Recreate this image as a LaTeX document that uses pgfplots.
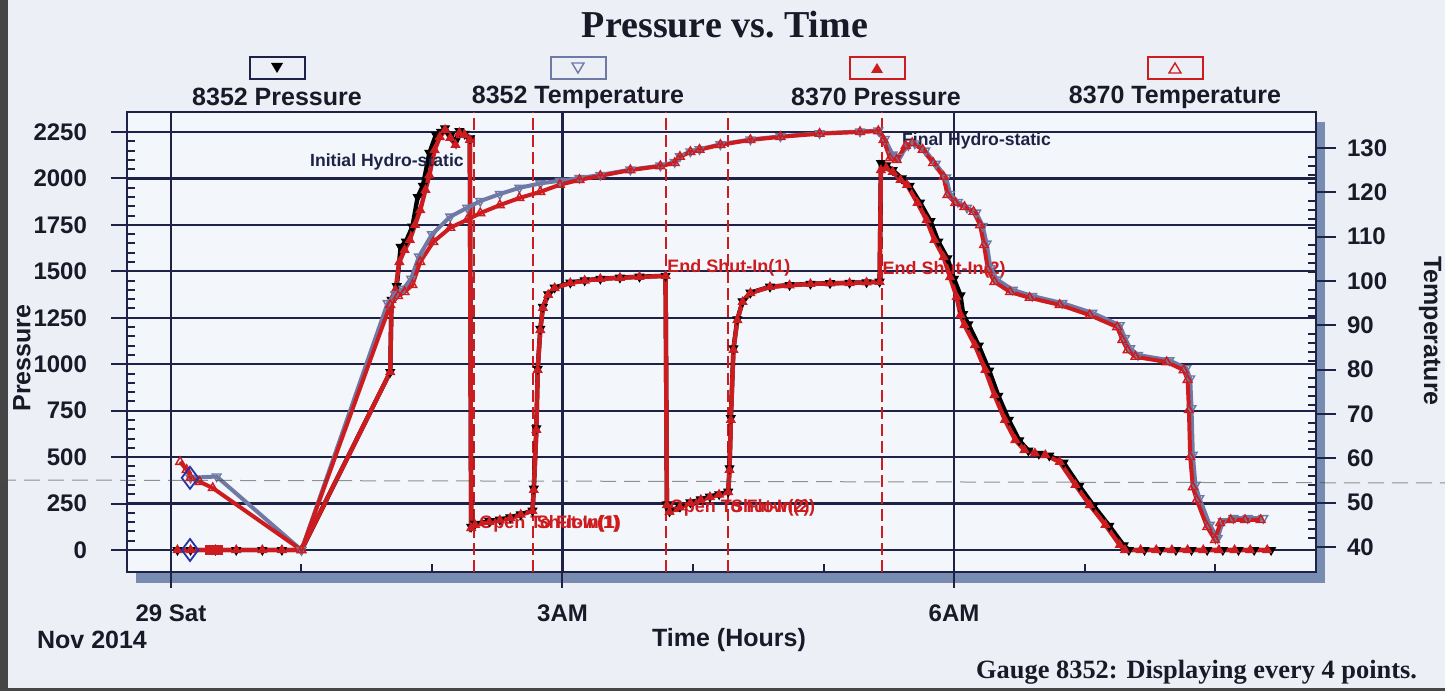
\documentclass[border=0pt]{standalone}
\usepackage{pgfplots}
\pgfplotsset{compat=1.18}
\usepackage{pgfplotstable}
\usepackage{fontspec}
\setmainfont{Liberation Sans}
\newfontfamily\timesf{Liberation Serif}
\definecolor{navy}{RGB}{30,34,70}
\definecolor{gred}{RGB}{205,28,32}
\definecolor{gtemp}{RGB}{110,122,165}
\definecolor{bgc}{RGB}{236,240,246}
\definecolor{plotbg}{RGB}{243,246,250}
\definecolor{shadowc}{RGB}{120,140,178}
\definecolor{edgec}{RGB}{70,70,70}
\definecolor{diamc}{RGB}{40,50,170}
\definecolor{txt}{RGB}{25,25,40}

% 8370 Pressure (psi) vs time (hours after midnight, 29 Nov 2014)
\pgfplotstableread{
t P
0.05 0
0.15 0
0.34 0
0.50 0
0.70 0
0.85 0
1.00 0
1.68 958
1.69 1346
1.72 1400
1.75 1550
1.79 1615
1.83 1669
1.87 1750
1.91 1830
1.95 1938
1.98 2018
2.02 2153
2.06 2223
2.10 2261
2.14 2218
2.18 2180
2.21 2245
2.25 2234
2.29 2207
2.30 118
2.33 135
2.44 151
2.52 160
2.60 172
2.68 190
2.77 210
2.78 323
2.80 646
2.81 969
2.83 1184
2.85 1303
2.89 1373
2.94 1410
3.06 1437
3.17 1450
3.29 1459
3.44 1465
3.59 1470
3.79 1475
3.80 242
3.82 205
3.90 230
3.98 253
4.06 270
4.13 285
4.20 298
4.27 312
4.28 431
4.29 700
4.31 1077
4.34 1238
4.38 1335
4.44 1383
4.59 1416
4.74 1425
4.90 1432
5.05 1435
5.20 1437
5.33 1440
5.43 1443
5.44 2045
5.48 2056
5.53 2035
5.59 1992
5.64 1965
5.72 1868
5.79 1776
5.85 1669
5.92 1577
5.97 1469
6.02 1362
6.05 1265
6.08 1211
6.16 1103
6.24 969
6.31 834
6.39 700
6.47 592
6.54 538
6.62 520
6.70 511
6.81 474
6.93 350
7.04 242
7.16 135
7.27 27
7.31 0
7.43 0
7.55 0
7.67 0
7.79 0
7.91 0
8.03 0
8.15 0
8.27 0
8.40 0
}\redP

% 8352 Pressure
\pgfplotstableread{
t P
0.05 0
0.15 0
0.34 0
0.50 0
0.70 0
0.85 0
1.00 0
1.68 958
1.69 1346
1.73 1420
1.76 1631
1.80 1660
1.85 1740
1.89 1900
1.93 1960
1.98 2137
2.03 2234
2.07 2250
2.10 2270
2.14 2230
2.18 2200
2.21 2255
2.25 2240
2.29 2215
2.30 125
2.33 140
2.44 155
2.52 163
2.60 175
2.68 192
2.77 212
2.78 330
2.80 655
2.81 975
2.83 1190
2.85 1308
2.89 1376
2.94 1412
3.06 1439
3.17 1451
3.29 1460
3.44 1466
3.59 1471
3.79 1476
3.80 245
3.82 208
3.90 233
3.98 256
4.06 272
4.13 287
4.20 300
4.27 314
4.28 440
4.29 710
4.31 1085
4.34 1242
4.38 1338
4.44 1385
4.59 1417
4.74 1426
4.90 1433
5.05 1436
5.20 1438
5.33 1441
5.43 1444
5.44 2083
5.48 2070
5.53 2045
5.60 2000
5.66 1960
5.74 1870
5.82 1770
5.88 1660
5.95 1570
6.00 1460
6.05 1370
6.07 1270
6.11 1215
6.19 1100
6.27 965
6.34 830
6.42 700
6.50 590
6.57 535
6.65 518
6.73 508
6.84 470
6.96 345
7.07 238
7.19 130
7.30 25
7.34 0
7.46 0
7.58 0
7.70 0
7.82 0
7.94 0
8.06 0
8.18 0
8.30 0
8.43 0
}\blackP

% 8370 Temperature
\pgfplotstableread{
t T
0.07 59.2
0.12 57.4
0.15 55.6
0.22 54.7
0.32 53.3
1.00 39.3
1.68 94.6
1.74 96.6
1.79 97.5
1.85 99.1
1.91 104.3
2.01 108.8
2.14 112.0
2.27 113.8
2.37 115.3
2.52 117.1
2.67 118.7
2.83 120.1
2.98 121.7
3.13 122.8
3.29 123.7
3.52 125.0
3.75 125.9
3.86 126.6
3.90 128.0
3.98 129.1
4.05 129.6
4.21 130.7
4.44 131.8
4.67 132.5
4.97 133.2
5.28 133.6
5.42 133.8
5.46 131.8
5.51 127.7
5.56 127.3
5.63 130.5
5.68 131.1
5.76 129.6
5.84 126.6
5.92 123.5
5.95 119.4
6.01 117.6
6.08 116.7
6.15 115.6
6.20 112.6
6.23 108.1
6.26 102.5
6.31 99.8
6.43 97.5
6.58 96.2
6.81 94.6
7.04 92.3
7.25 89.6
7.29 86.7
7.33 84.4
7.39 82.9
7.63 81.7
7.76 79.9
7.79 77.7
7.80 70.9
7.81 60.3
7.83 53.5
7.86 50.6
7.94 44.5
8.00 41.6
8.04 45.4
8.12 46.1
8.23 46.1
8.35 46.1
}\redT

% 8352 Temperature
\pgfplotstableread{
t T
0.15 55.6
0.35 55.9
1.00 39.3
1.66 95.0
1.72 97.0
1.78 98.2
1.84 100.5
1.90 105.5
2.00 110.5
2.14 114.5
2.27 116.5
2.37 118.0
2.52 119.6
2.67 121.0
2.83 122.0
2.98 122.6
3.13 123.2
3.29 123.9
3.52 125.1
3.75 126.0
3.86 126.8
3.90 128.1
3.98 129.2
4.05 129.7
4.21 130.8
4.44 131.9
4.67 132.6
4.97 133.3
5.28 133.7
5.42 133.9
5.47 132.0
5.53 128.5
5.58 128.0
5.65 130.6
5.70 131.0
5.78 129.4
5.86 126.4
5.94 123.3
5.97 119.6
6.03 117.8
6.10 116.5
6.17 115.4
6.22 112.4
6.25 108.4
6.28 102.9
6.33 100.3
6.45 98.0
6.60 96.6
6.83 95.0
7.06 92.8
7.27 90.0
7.31 87.1
7.35 84.8
7.41 83.3
7.65 82.1
7.78 80.3
7.81 78.0
7.82 71.3
7.83 60.8
7.85 54.0
7.88 51.0
7.96 45.0
8.02 42.0
8.06 45.8
8.14 46.5
8.25 46.5
8.37 46.5
}\grayT

\begin{document}
\begin{tikzpicture}
\path[use as bounding box] (0pt,0pt) rectangle (722.5pt,345.5pt);
\fill[bgc] (0pt,0pt) rectangle (722.5pt,345.5pt);
\fill[edgec] (0pt,0pt) rectangle (4pt,345.5pt);
\fill[edgec] (0pt,0pt) rectangle (722.5pt,1.5pt);
\fill[shadowc] (68pt,54pt) rectangle (662.5pt,284.5pt);

\begin{axis}[
  at={(63.5pt,59.5pt)}, anchor=south west,
  scale only axis, width=594.5pt, height=230pt,
  xmin=-0.337, xmax=8.774, ymin=-118.4, ymax=2357.6,
  axis background/.style={fill=plotbg},
  axis line style={navy, line width=1.2pt},
  tick pos=left, tick align=outside,
  major tick length=8pt, minor tick length=4pt,
  every tick/.style={navy, line width=1pt},
  every minor y tick/.append style={xshift=4pt},
  every minor x tick/.append style={yshift=4pt},
  xtick={0,3,6}, xticklabels={29 Sat,3AM,6AM},
  minor xtick={1,2,4,5,7,8},
  ytick={0,250,...,2250},
  minor y tick num=4,
  grid=major,
  major grid style={navy, line width=1.1pt},
  tick label style={font=\bfseries\fontsize{12}{14}\selectfont, text=txt},
  yticklabel style={xshift=-8.5pt},
  xticklabel style={yshift=-5pt},
  /pgf/number format/assume math mode=true,
  /pgf/number format/1000 sep={},
  scaled ticks=false,
]
\addplot[gred, line width=1pt, dash pattern=on 6pt off 2.5pt] coordinates {(2.322,-118.4) (2.322,2357.6)};
\addplot[gred, line width=1pt, dash pattern=on 6pt off 2.5pt] coordinates {(2.774,-118.4) (2.774,2357.6)};
\addplot[gred, line width=1pt, dash pattern=on 6pt off 2.5pt] coordinates {(3.793,-118.4) (3.793,2357.6)};
\addplot[gred, line width=1pt, dash pattern=on 6pt off 2.5pt] coordinates {(4.268,-118.4) (4.268,2357.6)};
\addplot[gred, line width=1pt, dash pattern=on 6pt off 2.5pt] coordinates {(5.448,-118.4) (5.448,2357.6)};

\addplot[black, line width=2.2pt, mark=triangle*, mark size=2.5pt,
  mark options={solid, rotate=180, fill=black, line width=0.5pt}] table[x=t,y=P] {\blackP};
\addplot[gred, line width=2.2pt, mark=triangle*, mark size=2.5pt,
  mark options={solid, fill=gred, line width=0.5pt}] table[x=t,y=P] {\redP};
\addplot[only marks, diamc, mark=diamond, mark size=5.5pt, mark options={line width=0.9pt}] coordinates {(0.146,0)};
\addplot[only marks, gred, mark=square*, mark size=2.4pt] coordinates {(0.30,0) (0.36,0)};

\node[font=\bfseries\fontsize{8.8}{10}\selectfont, text=navy] at (axis cs:1.655,2089) {Initial Hydro-static};
\node[anchor=west, inner sep=0pt, font=\bfseries\fontsize{8.8}{10}\selectfont, text=navy] at (axis cs:5.60,2202) {Final Hydro-static};
\node[anchor=west, inner sep=0pt, font=\bfseries\fontsize{9}{10}\selectfont, text=gred] at (axis cs:3.80,1518) {End Shut-In(1)};
\node[anchor=west, inner sep=0pt, font=\bfseries\fontsize{9}{10}\selectfont, text=gred] at (axis cs:5.45,1507) {End Shut-In(2)};
\node[anchor=west, inner sep=0pt, font=\bfseries\fontsize{9}{10}\selectfont, text=gred] at (axis cs:2.36,140) {Open To Flow(1)};
\node[anchor=west, inner sep=0pt, font=\bfseries\fontsize{9}{10}\selectfont, text=gred] at (axis cs:2.80,140) {Shut-In(1)};
\node[anchor=west, inner sep=0pt, font=\bfseries\fontsize{9}{10}\selectfont, text=gred] at (axis cs:3.82,226) {Open To Flow(2)};
\node[anchor=west, inner sep=0pt, font=\bfseries\fontsize{9}{10}\selectfont, text=gred] at (axis cs:4.29,226) {Shut-In(2)};
\end{axis}

\begin{axis}[
  at={(63.5pt,59.5pt)}, anchor=south west,
  scale only axis, width=594.5pt, height=230pt,
  xmin=-0.337, xmax=8.774, ymin=34.36, ymax=138.1,
  axis y line*=right, hide x axis,
  axis line style={navy, line width=1.2pt},
  tick align=outside, major tick length=10pt, minor tick length=4pt,
  every tick/.style={navy, line width=1pt},
  every minor y tick/.append style={xshift=-4pt},
  ytick={40,50,...,130}, minor y tick num=4,
  tick label style={font=\bfseries\fontsize{12}{14}\selectfont, text=txt},
  yticklabel style={xshift=2pt},
  /pgf/number format/assume math mode=true,
]
\addplot[gtemp, line width=2pt, mark=triangle, mark size=2.5pt,
  mark options={solid, rotate=180, line width=0.7pt}] table[x=t,y=T] {\grayT};
\addplot[gred, line width=2pt, mark=triangle, mark size=2.5pt,
  mark options={solid, line width=0.7pt}] table[x=t,y=T] {\redT};
\addplot[only marks, diamc, mark=diamond, mark size=5.5pt, mark options={line width=0.9pt}] coordinates {(0.146,55.6)};
\end{axis}

% title
\node[font=\timesf\bfseries\fontsize{19}{22}\selectfont, text=txt] at (362.5pt,333pt) {Pressure vs.\ Time};
% legend
\draw[navy, line width=1pt] (124.75pt,306pt) rectangle (152.25pt,317pt);
\fill[black] (138.5pt,309pt) -- (135.5pt,314pt) -- (141.5pt,314pt) -- cycle;
\draw[gtemp, line width=1pt] (275.25pt,306pt) rectangle (302.75pt,317pt);
\draw[gtemp, line width=0.7pt] (289pt,309pt) -- (286pt,314pt) -- (292pt,314pt) -- cycle;
\draw[gred, line width=1pt] (424.75pt,306pt) rectangle (452.25pt,317pt);
\fill[gred] (438.5pt,314pt) -- (435.5pt,309pt) -- (441.5pt,309pt) -- cycle;
\draw[gred, line width=1pt] (573.75pt,306pt) rectangle (601.25pt,317pt);
\draw[gred, line width=0.7pt] (587.5pt,314pt) -- (584.5pt,309pt) -- (590.5pt,309pt) -- cycle;
\begin{scope}[every node/.style={font=\bfseries\fontsize{12.5}{14}\selectfont, text=txt}]
\node at (138.5pt,297pt) {8352 Pressure};
\node at (289pt,297pt) {8352 Temperature};
\node at (438pt,297pt) {8370 Pressure};
\node at (587.5pt,297pt) {8370 Temperature};
\node at (11pt,166.5pt) [rotate=90] {Pressure};
\node at (715pt,180pt) [rotate=-90] {Temperature};
\node at (364.5pt,25.5pt) {Time (Hours)};
\node at (46pt,25.5pt) {Nov 2014};
\end{scope}
\node[anchor=east, font=\timesf\bfseries\fontsize{13.2}{15}\selectfont, text=txt] at (712pt,9.5pt) {Gauge 8352: Displaying every 4 points.};
\draw[gray!60!black, line width=0.5pt, dash pattern=on 8pt off 4pt, opacity=0.6] (0pt,105.5pt) -- (722.5pt,104pt);
\end{tikzpicture}
\end{document}
